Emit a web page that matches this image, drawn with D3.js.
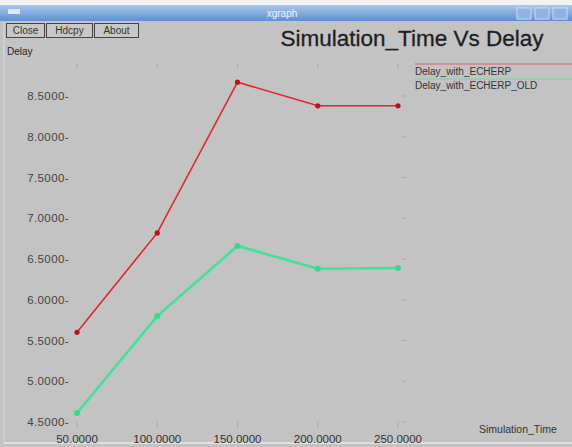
<!DOCTYPE html>
<html>
<head>
<meta charset="utf-8">
<script src="https://cdn.jsdelivr.net/npm/d3@7"></script>
<style>
  html, body { margin: 0; padding: 0; background: #c3c3c3; }
  text { font-family: "Liberation Sans", Arial, sans-serif; }
</style>
</head>
<body>
<div id="chart"></div>
<script>
// chart data
const simTimes = [50, 100, 150, 200, 250];
const delayEcherp = [5.60, 6.82, 8.67, 8.38, 8.38];
const delayEcherpOld = [4.61, 5.80, 6.66, 6.38, 6.39];
const seriesNames = ['Delay_with_ECHERP', 'Delay_with_ECHERP_OLD'];
const seriesColors = ['#e5232d', '#3fe39a'];
const yTicks = [4.5, 5.0, 5.5, 6.0, 6.5, 7.0, 7.5, 8.0, 8.5];
const buttons = ['Close', 'Hdcpy', 'About'];

const W = 572, H = 447;

const svg = d3.select('#chart')
	.append('svg')
	.attr('width', W)
	.attr('height', H);

// window frame
svg.append('rect').attr('width', W).attr('height', H).attr('fill', '#c3c3c3');
svg.append('rect').attr('width', W).attr('height', 5).attr('fill', '#f2f2f2');

const grad = svg.append('defs').append('linearGradient')
	.attr('id', 'bar').attr('x1', 0).attr('y1', 0).attr('x2', 0).attr('y2', 1);
grad.append('stop').attr('offset', 0).attr('stop-color', '#a9c8ec');
grad.append('stop').attr('offset', 1).attr('stop-color', '#5d8fd1');

svg.append('rect').attr('y', 5).attr('width', W).attr('height', 16).attr('fill', 'url(#bar)');
svg.append('text').attr('x', 282).attr('y', 17).attr('text-anchor', 'middle')
	.attr('fill', '#eef4ff').attr('font-size', 10).text('xgraph');

// window buttons
[517, 535, 553].forEach(x => {
	svg.append('rect').attr('x', x).attr('y', 8).attr('width', 14).attr('height', 11)
		.attr('fill', '#8fb3e2').attr('stroke', '#c7dbf3').attr('stroke-width', 1);
});
svg.append('rect').attr('x', 8).attr('y', 9).attr('width', 12).attr('height', 5).attr('fill', '#dfe9f7');

svg.append('line').attr('x1', 4).attr('x2', 4).attr('y1', 21).attr('y2', 443)
	.attr('stroke', '#d9d9d9').attr('stroke-width', 1);
svg.append('line').attr('x1', 4).attr('x2', W).attr('y1', 443).attr('y2', 443)
	.attr('stroke', '#dedede').attr('stroke-width', 2);

// xgraph buttons
let bx = 6;
const btnW = [38, 46, 44];
buttons.forEach((b, i) => {
	svg.append('rect').attr('x', bx + 0.5).attr('y', 23.5).attr('width', btnW[i]).attr('height', 14)
		.attr('fill', '#c8c8c8').attr('stroke', '#444').attr('stroke-width', 1);
	svg.append('text').attr('x', bx + btnW[i] / 2 + 0.5).attr('y', 34).attr('text-anchor', 'middle')
		.attr('font-size', 10).attr('fill', '#333').text(b);
	bx += btnW[i] + 2;
});

// title and axis labels
svg.append('text').attr('x', 412).attr('y', 46).attr('text-anchor', 'middle')
	.attr('font-size', 22.5).attr('fill', '#1e1e1e').attr('stroke', '#1e1e1e').attr('stroke-width', 0.3)
	.text('Simulation_Time Vs Delay');
svg.append('text').attr('x', 7).attr('y', 55).attr('font-size', 10).attr('fill', '#222').text('Delay');
svg.append('text').attr('x', 479).attr('y', 433).attr('font-size', 10.5).attr('fill', '#333').text('Simulation_Time');

// scales
const x = d3.scaleLinear().domain([50, 250]).range([77, 398]);
const y = d3.scaleLinear().domain([4.5, 8.5]).range([422, 96]);

// y axis labels
const gy = svg.append('g');
yTicks.forEach(t => {
	gy.append('text').attr('x', 69).attr('y', y(t) + 4).attr('text-anchor', 'end')
		.attr('font-size', 11.5).attr('letter-spacing', 0.4).attr('fill', '#444')
		.text(d3.format('.4f')(t) + '-');
	gy.append('line').attr('x1', 402).attr('x2', 407).attr('y1', y(t)).attr('y2', y(t))
		.attr('stroke', '#aaa');
});

// x axis labels and ticks
const gx = svg.append('g');
simTimes.forEach(t => {
	gx.append('text').attr('x', x(t)).attr('y', 443).attr('text-anchor', 'middle')
		.attr('font-size', 11.5).attr('fill', '#333').text(d3.format('.4f')(t));
	gx.append('line').attr('x1', x(t)).attr('x2', x(t)).attr('y1', 63).attr('y2', 69)
		.attr('stroke', '#aaa');
	gx.append('line').attr('x1', x(t)).attr('x2', x(t)).attr('y1', 422).attr('y2', 428)
		.attr('stroke', '#aaa');
});

// series
const series = [delayEcherp, delayEcherpOld];
const widths = [1.6, 2.6];
const line = d3.line().x((d, i) => x(simTimes[i])).y(d => y(d));

series.forEach((vals, s) => {
	svg.append('path').datum(vals).attr('d', line)
		.attr('fill', 'none').attr('stroke', seriesColors[s]).attr('stroke-width', widths[s]);
	svg.append('g').selectAll('circle').data(vals).join('circle')
		.attr('cx', (d, i) => x(simTimes[i])).attr('cy', d => y(d))
		.attr('r', s === 0 ? 2.6 : 3)
		.attr('fill', s === 0 ? '#b8121c' : '#36d98f');
});

// legend
seriesNames.forEach((n, s) => {
	svg.append('line').attr('x1', 415).attr('x2', W).attr('y1', 64 + s * 15).attr('y2', 64 + s * 15)
		.attr('stroke', seriesColors[s]).attr('stroke-width', 1).attr('opacity', 0.6);
	svg.append('text').attr('x', 415).attr('y', 75 + s * 14).attr('font-size', 10)
		.attr('fill', '#333').text(n);
});
</script>
</body>
</html>
